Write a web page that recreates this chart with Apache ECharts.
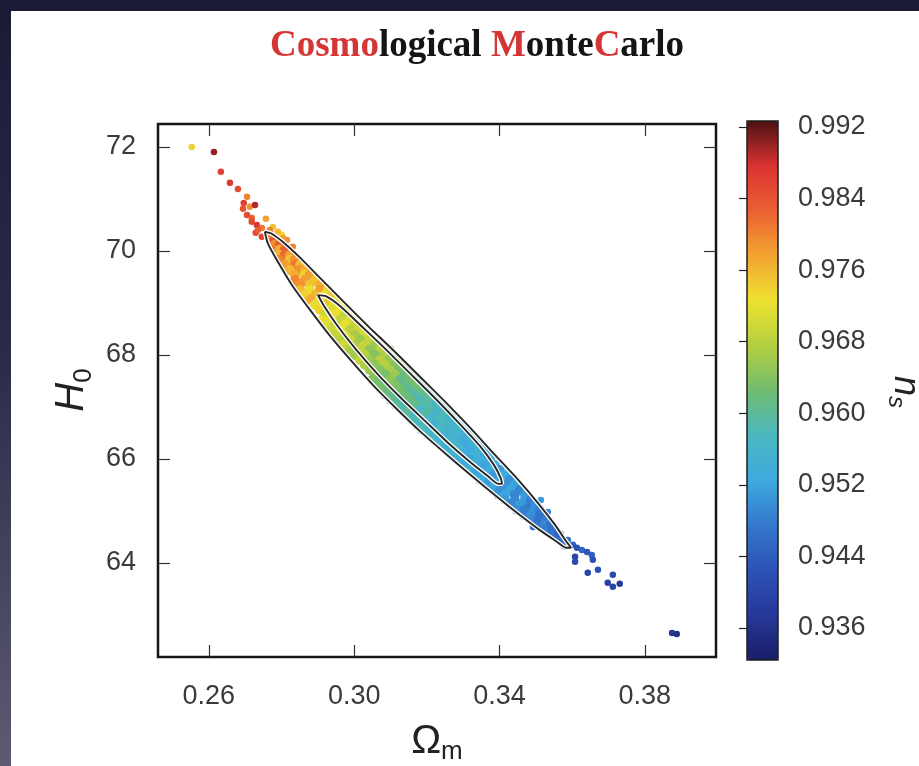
<!DOCTYPE html>
<html>
<head>
<meta charset="utf-8">
<script src="https://cdn.jsdelivr.net/npm/echarts@6/dist/echarts.min.js"></script>
<style>
  html, body { margin: 0; padding: 0; }
  body { width: 919px; height: 766px; overflow: hidden; position: relative;
    background: linear-gradient(180deg, #1b1b36 0%, #2a2a48 45%, #5c5b71 100%); }
  #panel { position: absolute; left: 11px; top: 11px; right: 0; bottom: 0; background: #fff; }
  #chart { position: absolute; left: 0; top: 0; width: 919px; height: 766px; }
</style>
</head>
<body>
<div id="panel"></div>
<div id="chart"></div>
<script>
const xTicks = [0.26, 0.30, 0.34, 0.38]
const yTicks = [64, 66, 68, 70, 72]
const nsTicks = [0.936, 0.944, 0.952, 0.960, 0.968, 0.976, 0.984, 0.992]

// [Omega_m, H0, n_s] samples inside the band
const bandPoints = [
  [0.2768,70.31,0.982],
  [0.2768,70.21,0.980],[0.2782,70.21,0.984],
  [0.2782,70.12,0.979],[0.2795,70.12,0.983],
  [0.2782,70.02,0.981],[0.2795,70.02,0.977],[0.2809,70.02,0.983],
  [0.2795,69.92,0.976],[0.2809,69.92,0.982],[0.2823,69.92,0.978],
  [0.2795,69.83,0.980],[0.2823,69.83,0.975],[0.2837,69.83,0.979],
  [0.2809,69.73,0.978],[0.2837,69.73,0.981],[0.2851,69.73,0.976],
  [0.2823,69.63,0.976],[0.2851,69.63,0.979],[0.2864,69.63,0.977],
  [0.2837,69.54,0.977],[0.2864,69.54,0.974],[0.2878,69.54,0.978],
  [0.2837,69.44,0.980],[0.2864,69.44,0.978],[0.2892,69.44,0.975],
  [0.2851,69.35,0.979],[0.2878,69.35,0.975],[0.2906,69.35,0.977],
  [0.2851,69.25,0.976],[0.2878,69.25,0.973],[0.2906,69.25,0.978],[0.2928,69.25,0.974],
  [0.2864,69.15,0.974],[0.2892,69.15,0.976],[0.2919,69.15,0.972],[0.2941,69.15,0.975],
  [0.2878,69.06,0.977],[0.2906,69.06,0.973],[0.2933,69.06,0.975],[0.2955,69.06,0.972],
  [0.2892,68.96,0.972],[0.2919,68.96,0.975],[0.2947,68.96,0.971],[0.2969,68.96,0.973],
  [0.2906,68.87,0.974],[0.2933,68.87,0.971],[0.2961,68.87,0.973],[0.2983,68.87,0.970],
  [0.2919,68.77,0.970],[0.2947,68.77,0.973],[0.2974,68.77,0.969],[0.2996,68.77,0.972],
  [0.2911,68.67,0.973],[0.2933,68.67,0.972],[0.2961,68.67,0.969],[0.2988,68.67,0.971],[0.3010,68.67,0.968],
  [0.2919,68.58,0.971],[0.2947,68.58,0.968],[0.2974,68.58,0.972],[0.3002,68.58,0.969],[0.3021,68.58,0.970],
  [0.2933,68.48,0.970],[0.2961,68.48,0.972],[0.2988,68.48,0.968],[0.3016,68.48,0.970],[0.3038,68.48,0.967],
  [0.2947,68.38,0.969],[0.2974,68.38,0.971],[0.3002,68.38,0.967],[0.3029,68.38,0.970],[0.3051,68.38,0.968],
  [0.2961,68.29,0.968],[0.2988,68.29,0.970],[0.3016,68.29,0.966],[0.3043,68.29,0.969],[0.3065,68.29,0.967],
  [0.2974,68.19,0.970],[0.3002,68.19,0.967],[0.3029,68.19,0.969],[0.3057,68.19,0.966],[0.3079,68.19,0.968],
  [0.2988,68.10,0.967],[0.3016,68.10,0.969],[0.3043,68.10,0.965],[0.3071,68.10,0.968],[0.3098,68.10,0.966],
  [0.3002,68.00,0.966],[0.3029,68.00,0.968],[0.3057,68.00,0.964],[0.3085,68.00,0.967],[0.3107,68.00,0.965],
  [0.3016,67.90,0.969],[0.3043,67.90,0.966],[0.3071,67.90,0.968],[0.3098,67.90,0.965],[0.3120,67.90,0.967],
  [0.3029,67.81,0.967],[0.3057,67.81,0.965],[0.3085,67.81,0.968],[0.3112,67.81,0.964],[0.3134,67.81,0.966],
  [0.3043,67.71,0.966],[0.3071,67.71,0.964],[0.3098,67.71,0.967],[0.3126,67.71,0.963],[0.3148,67.71,0.965],
  [0.3057,67.62,0.965],[0.3085,67.62,0.963],[0.3112,67.62,0.966],[0.3140,67.62,0.962],[0.3161,67.62,0.964],
  [0.3049,67.52,0.964],[0.3071,67.52,0.962],[0.3098,67.52,0.965],[0.3126,67.52,0.961],[0.3153,67.52,0.963],[0.3175,67.52,0.962],
  [0.3063,67.42,0.963],[0.3085,67.42,0.962],[0.3112,67.42,0.964],[0.3140,67.42,0.961],[0.3167,67.42,0.963],[0.3189,67.42,0.960],
  [0.3074,67.33,0.963],[0.3098,67.33,0.961],[0.3126,67.33,0.963],[0.3153,67.33,0.960],[0.3181,67.33,0.962],[0.3203,67.33,0.959],
  [0.3087,67.23,0.962],[0.3112,67.23,0.960],[0.3140,67.23,0.962],[0.3167,67.23,0.959],[0.3195,67.23,0.961],[0.3217,67.23,0.960],
  [0.3101,67.13,0.961],[0.3126,67.13,0.959],[0.3153,67.13,0.962],[0.3181,67.13,0.958],[0.3208,67.13,0.960],[0.3230,67.13,0.958],
  [0.3115,67.04,0.960],[0.3140,67.04,0.958],[0.3167,67.04,0.961],[0.3195,67.04,0.959],[0.3222,67.04,0.957],[0.3244,67.04,0.959],
  [0.3131,66.94,0.959],[0.3153,66.94,0.961],[0.3181,66.94,0.957],[0.3208,66.94,0.959],[0.3236,66.94,0.956],[0.3258,66.94,0.958],
  [0.3145,66.85,0.960],[0.3167,66.85,0.957],[0.3195,66.85,0.959],[0.3222,66.85,0.956],[0.3250,66.85,0.958],[0.3272,66.85,0.957],
  [0.3159,66.75,0.958],[0.3181,66.75,0.959],[0.3208,66.75,0.956],[0.3236,66.75,0.958],[0.3263,66.75,0.955],[0.3285,66.75,0.957],
  [0.3173,66.65,0.957],[0.3195,66.65,0.958],[0.3222,66.65,0.955],[0.3250,66.65,0.957],[0.3277,66.65,0.956],[0.3297,66.65,0.954],
  [0.3186,66.56,0.958],[0.3208,66.56,0.956],[0.3236,66.56,0.957],[0.3263,66.56,0.955],[0.3291,66.56,0.956],[0.3310,66.56,0.954],
  [0.3203,66.46,0.956],[0.3222,66.46,0.957],[0.3250,66.46,0.955],[0.3277,66.46,0.956],[0.3305,66.46,0.954],[0.3321,66.46,0.955],
  [0.3219,66.37,0.957],[0.3236,66.37,0.955],[0.3263,66.37,0.956],[0.3291,66.37,0.954],[0.3319,66.37,0.955],[0.3335,66.37,0.953],
  [0.3236,66.27,0.956],[0.3250,66.27,0.955],[0.3277,66.27,0.956],[0.3305,66.27,0.953],[0.3332,66.27,0.955],[0.3349,66.27,0.954],
  [0.3263,66.17,0.954],[0.3291,66.17,0.956],[0.3319,66.17,0.953],[0.3346,66.17,0.955],[0.3363,66.17,0.953],
  [0.3277,66.08,0.955],[0.3305,66.08,0.953],[0.3332,66.08,0.955],[0.3360,66.08,0.952],[0.3376,66.08,0.954],
  [0.3291,65.98,0.954],[0.3319,65.98,0.952],[0.3346,65.98,0.954],[0.3374,65.98,0.953],
  [0.3305,65.88,0.953],[0.3332,65.88,0.954],[0.3360,65.88,0.952],[0.3387,65.88,0.953],
  [0.3319,65.79,0.954],[0.3346,65.79,0.952],[0.3374,65.79,0.953],[0.3401,65.79,0.951],
  [0.3332,65.69,0.952],[0.3360,65.69,0.954],[0.3387,65.69,0.951],[0.3415,65.69,0.953],
  [0.3346,65.60,0.953],[0.3374,65.60,0.951],[0.3401,65.60,0.953],[0.3429,65.60,0.950],
  [0.3365,65.50,0.951],[0.3387,65.50,0.953],[0.3415,65.50,0.950],[0.3442,65.50,0.952],
  [0.3382,65.40,0.952],[0.3401,65.40,0.950],[0.3429,65.40,0.952],[0.3456,65.40,0.949],
  [0.3396,65.31,0.950],[0.3415,65.31,0.952],[0.3442,65.31,0.949],[0.3470,65.31,0.951],
  [0.3415,65.21,0.951],[0.3442,65.21,0.949],[0.3470,65.21,0.951],[0.3487,65.21,0.948],
  [0.3431,65.12,0.949],[0.3456,65.12,0.951],[0.3484,65.12,0.948],[0.3500,65.12,0.950],
  [0.3448,65.02,0.950],[0.3470,65.02,0.948],[0.3497,65.02,0.950],[0.3511,65.02,0.948],
  [0.3467,64.92,0.948],[0.3489,64.92,0.950],[0.3511,64.92,0.947],
  [0.3487,64.83,0.949],[0.3509,64.83,0.947],[0.3528,64.83,0.948],
  [0.3503,64.73,0.947],[0.3525,64.73,0.949],[0.3542,64.73,0.946],
  [0.3525,64.63,0.948],[0.3547,64.63,0.946],
  [0.3547,64.54,0.947],[0.3564,64.54,0.945],
  [0.3566,64.44,0.946],
  [0.3580,64.35,0.945]
]

// scattered samples outside the contours
const outlierPoints = [
  [0.2553,72.00,0.974],[0.2614,71.90,0.990],[0.2633,71.52,0.986],[0.2658,71.31,0.987],
  [0.2680,71.19,0.985],[0.2705,71.04,0.980],[0.2696,70.92,0.986],[0.2694,70.81,0.984],
  [0.2713,70.85,0.979],[0.2727,70.88,0.989],[0.2705,70.69,0.985],[0.2718,70.63,0.983],
  [0.2732,70.50,0.987],[0.2746,70.44,0.981],[0.2729,70.35,0.985],[0.2757,70.62,0.978],
  [0.2776,70.46,0.975],[0.2801,70.31,0.973],[0.2815,70.21,0.979],[0.2831,70.08,0.980],
  [0.2718,70.56,0.985],[0.2735,70.40,0.983],[0.2746,70.27,0.986],[0.2768,70.40,0.980],
  [0.2790,70.37,0.976],[0.2804,70.25,0.978],
  [0.3514,65.21,0.951],[0.3533,64.98,0.949],[0.3492,64.69,0.946],
  [0.3588,64.44,0.946],[0.3602,64.35,0.944],[0.3613,64.29,0.942],[0.3608,64.12,0.940],
  [0.3627,64.25,0.945],[0.3641,64.21,0.943],[0.3654,64.15,0.944],[0.3657,64.06,0.942],
  [0.3608,64.02,0.941],[0.3643,63.81,0.940],[0.3671,63.87,0.942],[0.3712,63.77,0.941],
  [0.3698,63.62,0.939],[0.3712,63.54,0.940],[0.3731,63.60,0.938],
  [0.3875,62.65,0.937],[0.3888,62.63,0.936]
]

const outerContour = [
  [0.2754,70.37],[0.2773,70.33],[0.2804,70.17],[0.2851,69.87],[0.2906,69.48],[0.2974,69.00],
  [0.3043,68.52],[0.3112,68.06],[0.3181,67.58],[0.3250,67.10],[0.3319,66.60],[0.3387,66.08],
  [0.3451,65.60],[0.3506,65.15],[0.3553,64.73],[0.3583,64.42],[0.3597,64.29],[0.3583,64.29],
  [0.3555,64.42],[0.3511,64.63],[0.3456,64.92],[0.3393,65.27],[0.3324,65.67],[0.3255,66.08],
  [0.3186,66.50],[0.3120,66.94],[0.3057,67.38],[0.2994,67.87],[0.2933,68.37],[0.2878,68.87],
  [0.2828,69.35],[0.2790,69.79],[0.2762,70.15],[0.2754,70.37]
]
const innerContour = [
  [0.2900,69.15],[0.2922,69.13],[0.2961,68.94],[0.3016,68.58],[0.3085,68.12],[0.3153,67.65],
  [0.3222,67.17],[0.3291,66.67],[0.3346,66.25],[0.3385,65.88],[0.3404,65.62],[0.3407,65.52],
  [0.3396,65.52],[0.3368,65.67],[0.3319,65.94],[0.3258,66.31],[0.3195,66.73],[0.3126,67.19],
  [0.3062,67.65],[0.3002,68.13],[0.2952,68.58],[0.2917,68.94],[0.2900,69.15]
]

const nsColors = ['#1a1e66', '#26389a', '#2d52b6', '#3478cc', '#3eaadf', '#4ab8c0', '#70bc70',
  '#b4cf40', '#eee231', '#f3a431', '#ea6032', '#dc3232', '#4c1212']

const X_MIN = 0.246, X_MAX = 0.3996
const Y_MIN = 62.19, Y_MAX = 72.44
const NS_MIN = 0.93242, NS_MAX = 0.99267

const tickFont = { fontFamily: 'Liberation Sans', fontSize: 27, color: '#3a3a3a' }
const tickLine = { color: '#333', width: 1.2 }

const mainX = (pos, showLabel) => ({
  gridIndex: 0, type: 'value', min: X_MIN, max: X_MAX, position: pos,
  axisLine: { show: false }, splitLine: { show: false },
  axisTick: { inside: true, length: 12, customValues: xTicks, lineStyle: tickLine },
  axisLabel: { show: showLabel, customValues: xTicks, formatter: v => v.toFixed(2), margin: 26, ...tickFont },
})
const mainY = (pos, showLabel) => ({
  gridIndex: 0, type: 'value', min: Y_MIN, max: Y_MAX, position: pos,
  axisLine: { show: false }, splitLine: { show: false },
  axisTick: { inside: true, length: 12, customValues: yTicks, lineStyle: tickLine },
  axisLabel: { show: showLabel, customValues: yTicks, formatter: v => String(Math.round(v)), margin: 22, ...tickFont },
})

const contour = (data, halo) => ({
  type: 'line', xAxisIndex: 0, yAxisIndex: 0, data, showSymbol: false, smooth: 0.2, silent: true,
  lineStyle: halo ? { color: '#ffffff', width: 4.5 } : { color: '#262626', width: 1.9 },
  z: halo ? 3 : 4,
})

const chart = echarts.init(document.getElementById('chart'))
chart.setOption({
  backgroundColor: 'transparent',
  animation: false,
  grid: [
    { left: 158, top: 124, width: 558, height: 533, show: true, borderColor: '#161616', borderWidth: 2.5, backgroundColor: 'transparent' },
    { left: 747, top: 121, width: 31, height: 539, show: true, borderColor: '#1e1e1e', borderWidth: 1.5, backgroundColor: 'transparent', z: 10 },
  ],
  xAxis: [
    mainX('bottom', true),
    mainX('top', false),
    { gridIndex: 1, type: 'value', min: 0, max: 1, show: false },
  ],
  yAxis: [
    mainY('left', true),
    mainY('right', false),
    {
      gridIndex: 1, type: 'value', min: NS_MIN, max: NS_MAX, position: 'right', z: 10,
      axisLine: { show: false }, splitLine: { show: false },
      axisTick: { inside: true, length: 8, customValues: nsTicks, lineStyle: { color: '#222', width: 1.2 } },
      axisLabel: { customValues: nsTicks, formatter: v => v.toFixed(3), margin: 20, ...tickFont },
    },
  ],
  visualMap: {
    type: 'continuous', min: NS_MIN, max: NS_MAX, dimension: 2, seriesIndex: [0, 1],
    calculable: false, hoverLink: false, itemWidth: 31, itemHeight: 539,
    left: 747, top: 121, padding: 0, inRange: { color: nsColors },
  },
  series: [
    { type: 'scatter', xAxisIndex: 0, yAxisIndex: 0, data: bandPoints, symbolSize: 10, silent: true, itemStyle: { opacity: 1 } },
    { type: 'scatter', xAxisIndex: 0, yAxisIndex: 0, data: outlierPoints, symbolSize: 6.5, silent: true, itemStyle: { opacity: 1 } },
    contour(outerContour, true),
    contour(innerContour, true),
    contour(outerContour, false),
    contour(innerContour, false),
  ],
  graphic: [
    {
      type: 'text', x: 477, y: 46,
      style: {
        text: '{r|Cosmo}{k|logical }{r|M}{k|onte}{r|C}{k|arlo}',
        align: 'center', verticalAlign: 'middle',
        rich: {
          r: { fill: '#d43535', fontSize: 37, fontWeight: 'bold', fontFamily: 'Liberation Serif' },
          k: { fill: '#141414', fontSize: 37, fontWeight: 'bold', fontFamily: 'Liberation Serif' },
        },
      },
    },
    {
      type: 'text', x: 72, y: 390, rotation: Math.PI / 2,
      style: {
        text: '{h|H}{s|0}', align: 'center', verticalAlign: 'middle',
        rich: {
          h: { fill: '#222', fontSize: 40, fontStyle: 'italic', fontFamily: 'Liberation Sans', lineHeight: 44 },
          s: { fill: '#222', fontSize: 26, fontFamily: 'Liberation Sans', lineHeight: 26, padding: [24, 0, 0, 0] },
        },
      },
    },
    {
      type: 'text', x: 437, y: 742,
      style: {
        text: '{o|Ω}{m|m}', align: 'center', verticalAlign: 'middle',
        rich: {
          o: { fill: '#222', fontSize: 40, fontFamily: 'Liberation Sans', lineHeight: 44 },
          m: { fill: '#222', fontSize: 26, fontFamily: 'Liberation Sans', lineHeight: 26, padding: [20, 0, 0, 0] },
        },
      },
    },
    {
      type: 'text', x: 905, y: 392, rotation: -Math.PI / 2,
      style: {
        text: '{n|n}{s|s}', align: 'center', verticalAlign: 'middle',
        rich: {
          n: { fill: '#222', fontSize: 36, fontStyle: 'italic', fontFamily: 'Liberation Sans', lineHeight: 40 },
          s: { fill: '#222', fontSize: 24, fontStyle: 'italic', fontFamily: 'Liberation Sans', lineHeight: 24, padding: [18, 0, 0, 0] },
        },
      },
    },
  ],
})
</script>
</body>
</html>
